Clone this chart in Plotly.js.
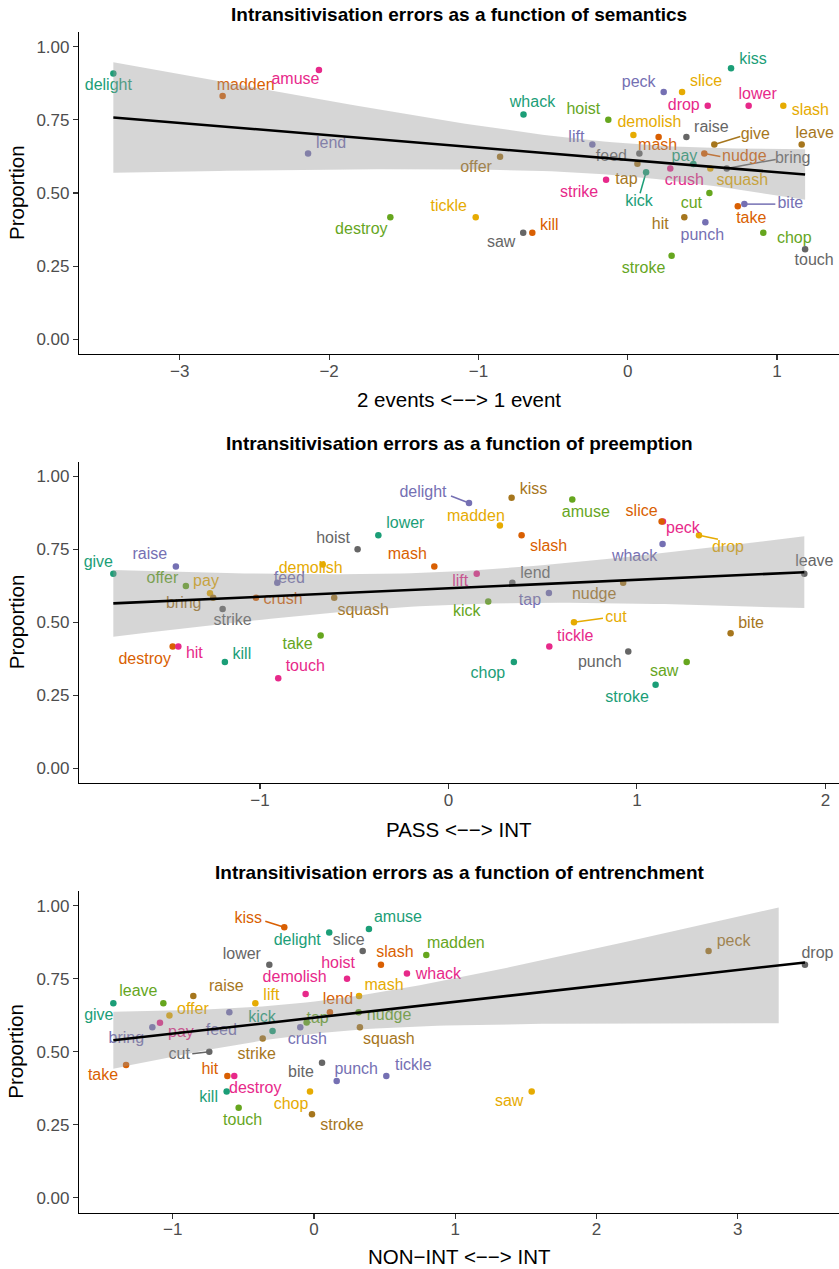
<!DOCTYPE html>
<html><head><meta charset="utf-8">
<script src="https://cdn.plot.ly/plotly-3.0.1.min.js"></script>
<style>html,body{margin:0;padding:0;background:#fff}#chart{width:839px;height:1269px}</style>
</head><body><div id="chart"></div>
<script>
// ---------------- DATA ----------------
const verbs = ["delight","madden","amuse","lend","destroy","tickle","whack","hoist","peck","demolish",
  "lift","offer","feed","tap","kick","strike","saw","kill","mash","hit",
  "stroke","kiss","slice","drop","lower","slash","raise","give","leave","nudge",
  "pay","crush","squash","bring","cut","take","bite","punch","chop","touch"];
const proportion = [0.908,0.831,0.920,0.635,0.417,0.417,0.768,0.750,0.845,0.698,
  0.666,0.624,0.635,0.600,0.571,0.545,0.364,0.364,0.691,0.417,
  0.286,0.926,0.845,0.798,0.798,0.798,0.691,0.666,0.666,0.635,
  0.599,0.584,0.584,0.584,0.500,0.455,0.462,0.400,0.364,0.308];
const semantics = [-3.445,-2.713,-2.068,-2.141,-1.590,-1.018,-0.698,-0.130,0.241,0.038,
  -0.237,-0.855,0.078,0.065,0.123,-0.145,-0.700,-0.639,0.207,0.379,
  0.294,0.692,0.364,0.536,0.810,1.042,0.393,0.580,1.165,0.513,
  0.440,0.285,0.553,0.663,0.547,0.737,0.781,0.520,0.908,1.188];
const preemption = [0.109,0.273,0.657,0.339,-1.463,0.535,1.136,-0.482,1.138,-0.667,
  0.150,-1.393,-0.908,0.533,0.211,-1.198,1.264,-1.186,-0.075,-1.433,
  1.099,0.335,1.131,1.329,-0.372,0.388,-1.446,-1.778,1.888,0.927,
  -1.265,-1.021,-0.606,-1.248,0.666,-0.678,1.497,0.954,0.347,-0.903];
const entrenchment = [0.108,0.795,0.389,0.113,-0.564,0.512,0.658,0.234,2.793,-0.059,
  -0.415,-1.023,-0.599,-0.052,-0.293,-0.363,1.541,-0.618,0.319,-0.613,
  -0.014,-0.210,0.345,3.475,-0.316,0.474,-0.854,-1.420,-1.066,0.316,
  -1.090,-0.097,0.325,-1.144,-0.741,-1.330,0.057,0.161,-0.028,-0.533];
const panelTitles = ["Intransitivisation errors as a function of semantics",
  "Intransitivisation errors as a function of preemption",
  "Intransitivisation errors as a function of entrenchment"];
const xTitles = ["2 events <\u2212\u2212> 1 event","PASS <\u2212\u2212> INT","NON\u2212INT <\u2212\u2212> INT"];
const yTitle = "Proportion";
const yTicks = [0,0.25,0.5,0.75,1];
const xTicks = [[-3,-2,-1,0,1],[-1,0,1,2],[-1,0,1,2,3]];

// ---------------- STYLE / LAYOUT ----------------
const dark2 = ["#1B9E77","#D95F02","#7570B3","#E7298A","#66A61E","#E6AB02","#A6761D","#666666"];
const FONT = "Liberation Sans, Arial, sans-serif";
const W = 839, H = 1269, L = 79;
// label offsets in pixels (dx, dy) from the point, per panel
const offs = [
 {delight:[-5,12],madden:[23,-10],amuse:[-23.5,10],lend:[23,-9],destroy:[-29,13],tickle:[-27,-10],whack:[9,-12],hoist:[-25,-10],peck:[-25,-9.5],demolish:[16,-12],
  lift:[-16,-6],offer:[-24,11],feed:[-28,4],tap:[-11,16],kick:[-7,30],strike:[-27,13],saw:[-22,10],kill:[17,-7],mash:[-1,9],hit:[-24,8],
  stroke:[-28,13],kiss:[22,-8],slice:[24,-10],drop:[-24,0],lower:[9,-11],slash:[27,5],raise:[25,-9],give:[41,-9],leave:[13,-10],nudge:[40,4],
  pay:[-9,-7],crush:[14,13],squash:[32,13],bring:[66,-9],cut:[-18,11],take:[13.5,13],bite:[46,0],punch:[-3,14],chop:[31,6],touch:[9,12]},
 {give:[-15,-11],raise:[-26,-11],offer:[-23.5,-7],pay:[-4,-11],bring:[-29.5,6],strike:[10,12],crush:[27,2],feed:[12,-4],demolish:[-12,5],hoist:[-24.5,-10],
  lower:[27,-11],mash:[-27,-11],squash:[29,13],take:[-23,10],destroy:[-28,13],hit:[16,7],kill:[17,-7],touch:[27,-11],delight:[-46,-10],kiss:[22,-8],
  amuse:[13.5,13],madden:[-24,-9],slash:[27,12],lift:[-16.5,8],lend:[23,-9],tap:[-19,8],nudge:[-29,12],kick:[-21.5,10],cut:[42,-4],tickle:[26,-10],
  punch:[-28.5,12],chop:[-26,12],stroke:[-28.5,13],whack:[-28,13],slice:[-20,-9],peck:[20,8],drop:[29,13],leave:[10,-12],bite:[20.5,-9],saw:[-22.5,10]},
 {kiss:[-36,-8],delight:[-32,8],amuse:[29,-11],slice:[-14,-10],slash:[14,-12],madden:[29.5,-11],lower:[-27.5,-10],hoist:[-9,-15],whack:[31.5,2],demolish:[-11,-16],
  mash:[25,-10],raise:[33,-9],lift:[16,-7],leave:[-25,-11],give:[-14.5,13],offer:[23.5,-6],pay:[21,10],bring:[-26,12],feed:[-8,19],lend:[8,-12],
  nudge:[30.5,4],tap:[11,-4],crush:[7,13],kick:[-10.5,-13],squash:[29,13],strike:[-6,16],cut:[-30,3],take:[-23,11],bite:[-21,10],hit:[-17.5,-6],
  destroy:[21,13],punch:[19.5,-11],tickle:[27,-10],kill:[-18,6],chop:[-19,13],touch:[4,13],stroke:[30,12],saw:[-22.5,10],peck:[25,-9],drop:[12.5,-11]}
];
// segment end offsets (pixels) for labels joined to their point
const segs = [
 {give:[26,-8],kick:[-6,21],nudge:[16,3],bring:[49,-9],bite:[31,0]},
 {delight:[-18,-7],drop:[19,4],cut:[29,-4]},
 {kiss:[-19,-6],cut:[-17,2]}
];
const panels = [
 {xs: semantics, top:32, bottom:354, xr:[-3.675,1.415], titleY:14, xTitleY:399},
 {xs: preemption, top:461.5, bottom:783, xr:[-1.960,2.072], titleY:443.5, xTitleY:829},
 {xs: entrenchment, top:891, bottom:1212.5, xr:[-1.663,3.716], titleY:872.5, xTitleY:1256}
];

function linfit(xs, ys){
  const n = xs.length;
  const mx = xs.reduce((a,b)=>a+b,0)/n, my = ys.reduce((a,b)=>a+b,0)/n;
  let sxx=0, sxy=0;
  for(let i=0;i<n;i++){sxx+=(xs[i]-mx)**2; sxy+=(xs[i]-mx)*(ys[i]-my);}
  const b = sxy/sxx, a = my - b*mx;
  let rss=0; for(let i=0;i<n;i++){rss+=(ys[i]-a-b*xs[i])**2;}
  const s = Math.sqrt(rss/(n-2));
  return {a,b,s,mx,sxx,n};
}
const TCRIT = 2.024394; // qt(0.975, 38)

const traces = [];
const layout = {
  width:W, height:H, margin:{l:0,r:0,t:0,b:0}, showlegend:false,
  paper_bgcolor:"#fff", plot_bgcolor:"#fff", font:{family:FONT}, annotations:[]
};

panels.forEach((p,i)=>{
  const sx = i===0?"":String(i+1);
  const xa = "x"+sx, ya = "y"+sx;
  const kx = (W-L)/(p.xr[1]-p.xr[0]);
  const ky = (p.bottom-p.top)/1.1;
  // colours: Dark2 recycled along x order
  const order = p.xs.map((v,k)=>k).sort((a,b)=>p.xs[a]-p.xs[b]);
  const cols = new Array(verbs.length);
  order.forEach((k,r)=>{cols[k]=dark2[r%8];});
  // points
  traces.push({type:"scatter",mode:"markers",x:p.xs,y:proportion,xaxis:xa,yaxis:ya,
    marker:{size:6.5,color:cols},hoverinfo:"skip",cliponaxis:false});
  // segments
  Object.keys(segs[i]).forEach(v=>{
    const k = verbs.indexOf(v); const d = segs[i][v];
    traces.push({type:"scatter",mode:"lines",x:[p.xs[k],p.xs[k]+d[0]/kx],y:[proportion[k],proportion[k]-d[1]/ky],
      xaxis:xa,yaxis:ya,line:{color:cols[k],width:1.5},hoverinfo:"skip"});
  });
  // labels
  const lx = [], ly = [];
  verbs.forEach((v,k)=>{const d = offs[i][v]||[0,0]; lx.push(p.xs[k]+d[0]/kx); ly.push(proportion[k]-d[1]/ky);});
  traces.push({type:"scatter",mode:"text",x:lx,y:ly,text:verbs,xaxis:xa,yaxis:ya,textposition:"middle center",
    textfont:{family:FONT,size:16,color:cols},hoverinfo:"skip",cliponaxis:false});
  // smooth: lm fit with 95% CI
  const f = linfit(p.xs, proportion);
  const xmin = Math.min(...p.xs), xmax = Math.max(...p.xs);
  const gx=[], gy=[], up=[], lo=[];
  for(let j=0;j<80;j++){
    const x = xmin + (xmax-xmin)*j/79;
    const yh = f.a+f.b*x;
    const se = f.s*Math.sqrt(1/f.n + (x-f.mx)**2/f.sxx);
    gx.push(x); gy.push(yh);
    const u = yh+TCRIT*se, l = yh-TCRIT*se;
    if(u<=1 && l>=0){up.push([x,u]); lo.push([x,l]);}
  }
  const bx = up.map(q=>q[0]).concat(lo.map(q=>q[0]).reverse());
  const by = up.map(q=>q[1]).concat(lo.map(q=>q[1]).reverse());
  traces.push({type:"scatter",mode:"lines",x:bx,y:by,fill:"toself",fillcolor:"rgba(153,153,153,0.4)",
    line:{width:0,color:"rgba(0,0,0,0)"},xaxis:xa,yaxis:ya,hoverinfo:"skip"});
  traces.push({type:"scatter",mode:"lines",x:gx,y:gy,line:{color:"#000",width:2.6},xaxis:xa,yaxis:ya,hoverinfo:"skip"});

  const axCommon = {showline:true,linecolor:"#000",linewidth:1.1,ticks:"outside",ticklen:5,tickwidth:1.1,tickcolor:"#333",
    showgrid:false,zeroline:false,tickfont:{family:FONT,size:17,color:"#4d4d4d"},fixedrange:true};
  layout["xaxis"+sx] = Object.assign({},axCommon,{domain:[L/W,1],range:p.xr,anchor:ya,tickvals:xTicks[i],ticklabelstandoff:-4});
  layout["yaxis"+sx] = Object.assign({},axCommon,{domain:[1-p.bottom/H,1-p.top/H],range:[-0.05,1.05],anchor:xa,
    tickvals:yTicks,tickformat:".2f"});
  layout.annotations.push({xref:"paper",yref:"paper",x:459/W,y:1-p.titleY/H,text:"<b>"+panelTitles[i]+"</b>",
    showarrow:false,xanchor:"center",yanchor:"middle",font:{family:FONT,size:19,color:"#000"}});
  layout.annotations.push({xref:"paper",yref:"paper",x:459/W,y:1-p.xTitleY/H,text:xTitles[i],
    showarrow:false,xanchor:"center",yanchor:"middle",font:{family:FONT,size:20.5,color:"#000"}});
  layout.annotations.push({xref:"paper",yref:"paper",x:16/W,y:1-(p.top+p.bottom)/2/H,text:yTitle,textangle:-90,
    showarrow:false,xanchor:"center",yanchor:"middle",font:{family:FONT,size:20.5,color:"#000"}});
});

Plotly.newPlot("chart",traces,layout,{staticPlot:true,displayModeBar:false});
</script></body></html>
